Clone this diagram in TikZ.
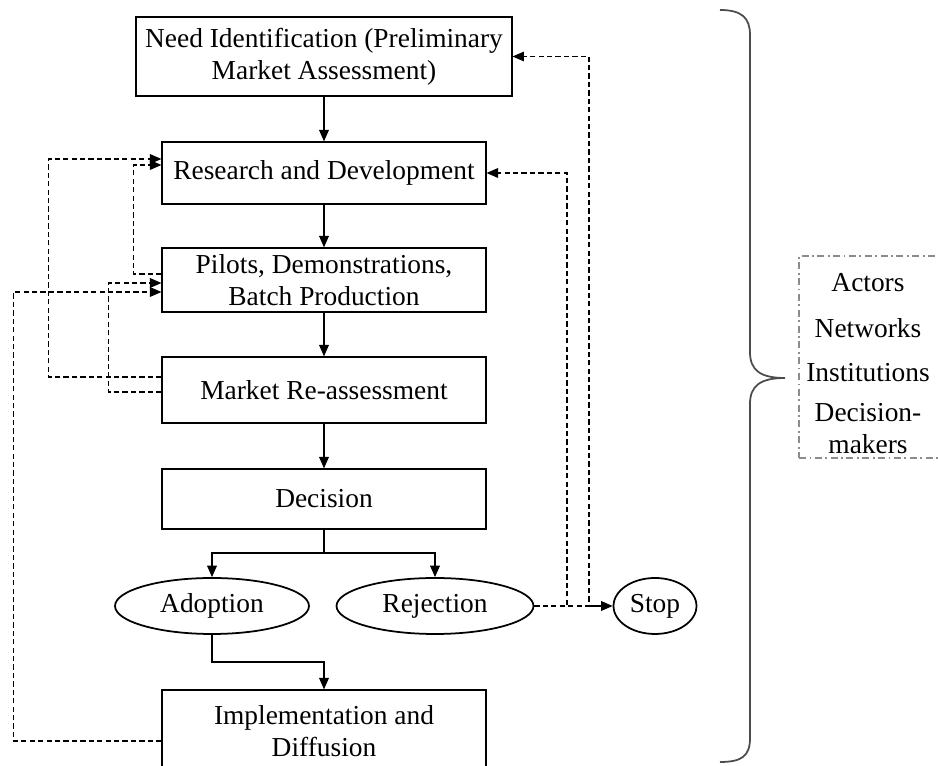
\documentclass[tikz,border=0pt]{standalone}
\usepackage{fontspec}
\setmainfont{Liberation Serif}
\usetikzlibrary{shapes,arrows.meta}

\begin{document}
\begin{tikzpicture}[x=0.02cm, y=-0.02cm, >={Triangle[length=6.5pt,width=5.5pt]},
    font=\fontsize{15.6}{18.2}\selectfont]

% stage style
\tikzstyle{stage} = [
    draw,
    line width=0.7pt,
    rectangle,
    align=center,
    minimum width=6.48cm,
    inner sep=2pt
]

% outcome style
\tikzstyle{outcome} = [
    draw,
    line width=1pt,
    ellipse,
    minimum height=1.12cm,
    inner sep=1pt
]

% factor box style
\tikzstyle{factors} = [
    draw = black!45,
    line width=0.7pt,
    dash pattern=on 4pt off 2pt on 1pt off 2pt,
    rectangle,
    minimum width=2.82cm,
    minimum height=4.04cm
]

% line styles
\tikzstyle{flow} = [->, line width=0.7pt]
\tikzstyle{feedback} = [->, line width=0.6pt, dash pattern=on 3pt off 1.8pt]

\useasboundingbox (0,0) rectangle (938,766);

% Place the nodes.
\node [stage, minimum width=7.52cm, minimum height=1.58cm] (need) at (324,56.5)
    {Need Identification (Preliminary\\Market Assessment)};
\node [stage, minimum height=1.24cm] (rd) at (324,173) {Research and Development};
\node [stage, minimum height=1.28cm] (pilot) at (324,280)
    {Pilots, Demonstrations,\\Batch Production};
\node [stage, minimum height=1.32cm] (market) at (324,390) {Market Re-assessment};
\node [stage, minimum height=1.2cm] (decision) at (324,499) {Decision};
\node [outcome, minimum width=3.88cm] (adopt) at (212,606) {Adoption};
\node [outcome, minimum width=3.94cm] (reject) at (435,606) {Rejection};
\node [outcome, minimum width=1.66cm] (stop) at (655,606) {Stop};
\node [stage, minimum height=1.64cm] (impl) at (324,731)
    {Implementation and\\Diffusion};

% Side factors.
\node [factors] (group) at (869.5,357) {};
\node (actors) at (868,283) {Actors};
\node (networks) at (868,328) {Networks};
\node (institutions) at (868,373) {Institutions};
\node [align=center] (makers) at (868,429) {Decision-\\makers};

% Helper points.
\coordinate (split) at (324,553);
\coordinate (bend) at (268,662);
\coordinate (tap) at (567,606);
\coordinate (fork) at (589,606);

% Connect the nodes.
\draw [flow] (need) -- (rd);
\draw [flow] (rd) -- (pilot);
\draw [flow] (pilot) -- (market);
\draw [flow] (market) -- (decision);
\draw [flow] (decision) -- (split) -| (adopt);
\draw [flow] (split) -| (reject);
\draw [flow] (adopt) |- (bend) -| (impl);
\draw [flow] (fork) -- (stop);

% Feedback loops.
\draw [feedback] ([yshift=0.26cm]market.west) -- ++(-113,0) |- ([yshift=0.28cm]rd.west);
\draw [feedback] ([yshift=0.12cm]pilot.west) -- ++(-28,0) |- ([yshift=0.16cm]rd.west);
\draw [feedback] ([yshift=-0.04cm]market.west) -- ++(-53,0) |- ([yshift=-0.06cm]pilot.west);
\draw [feedback] ([yshift=-0.2cm]impl.west) -- ++(-148,0) |- ([yshift=-0.24cm]pilot.west);
\draw [feedback] (reject.east) -- (tap) |- (rd.east);
\draw [feedback] (reject.east) -- (fork) |- (need.east);

% Brace.
\draw [black!70, line width=1pt] (720,10) .. controls (742,10) and (750,18) .. (750,35)
    -- (750,352) .. controls (750,370) and (760,378) .. (785,378)
    .. controls (760,378) and (750,386) .. (750,404)
    -- (750,738) .. controls (750,756) and (742,762) .. (720,762);

\end{tikzpicture}
\end{document}
